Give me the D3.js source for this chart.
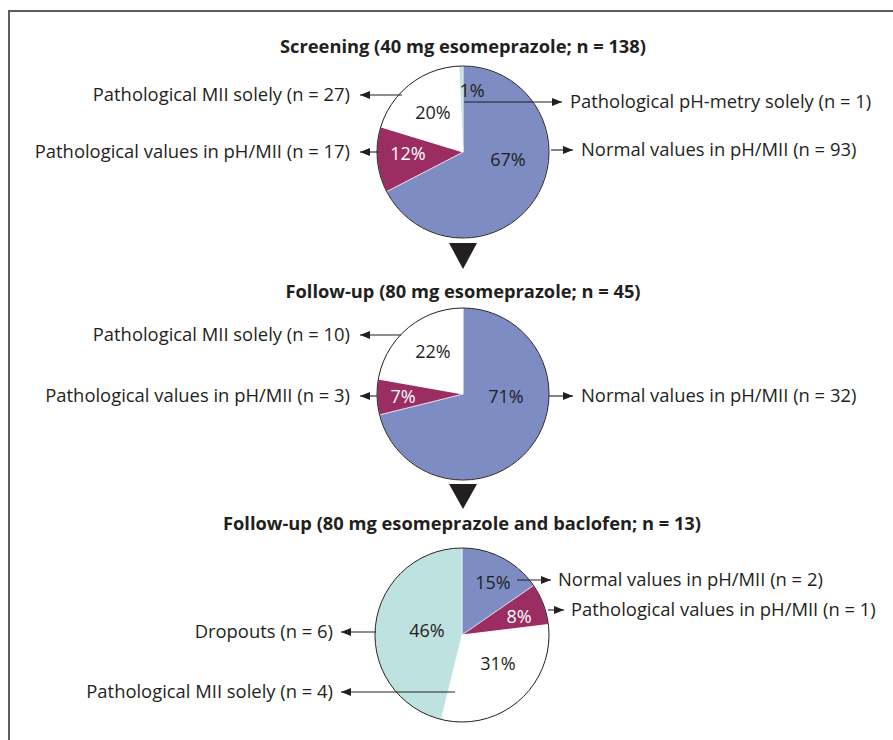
<!DOCTYPE html>
<html>
<head>
<meta charset="utf-8">
<script src="https://cdn.jsdelivr.net/npm/d3@7"></script>
<style>
  html, body { margin: 0; padding: 0; background: #fff; }
  svg { display: block; }
  text { font-family: "Open Sans", "Noto Sans", sans-serif; fill: #231f20; }
</style>
</head>
<body>
<svg id="chart" width="893" height="740"></svg>
<script>
// Patient flow through three measurement stages (counts per category)
const titles = [
  "Screening (40 mg esomeprazole; n = 138)",
  "Follow-up (80 mg esomeprazole; n = 45)",
  "Follow-up (80 mg esomeprazole and baclofen; n = 13)"
];

// Stage 1: screening
const screeningCategories = ["Normal values in pH/MII", "Pathological values in pH/MII", "Pathological MII solely", "Pathological pH-metry solely"];
const screeningCounts = [93, 17, 27, 1];

// Stage 2: follow-up, 80 mg
const followUpCategories = ["Normal values in pH/MII", "Pathological values in pH/MII", "Pathological MII solely"];
const followUpCounts = [32, 3, 10];

// Stage 3: follow-up, 80 mg + baclofen
const baclofenCategories = ["Normal values in pH/MII", "Pathological values in pH/MII", "Pathological MII solely", "Dropouts"];
const baclofenCounts = [2, 1, 4, 6];

const colorByCategory = {
  "Normal values in pH/MII": "#7d8dc3",
  "Pathological values in pH/MII": "#9b2d63",
  "Pathological MII solely": "#ffffff",
  "Pathological pH-metry solely": "#bde2df",
  "Dropouts": "#bde2df"
};
const whiteTextCategories = ["Pathological values in pH/MII"];

// Layout for each pie: centre, radius, title baseline, percent-label offsets and callouts
const layouts = [
  {
    cx: 463, cy: 152, r: 86, titleY: 53,
    pct: [[45, 8], [-55, 2], [-30, -39], [9, -61]],
    callouts: [
      { side: "right", y: 150, x1: 551, x2: 573, tx: 581 },
      { side: "left", y: 152, x1: 378, x2: 360, tx: 350 },
      { side: "left", y: 95, x1: 402, x2: 360, tx: 350 },
      { side: "right", y: 102, x1: 464, x2: 562, tx: 570 }
    ]
  },
  {
    cx: 463, cy: 394, r: 86, titleY: 298,
    pct: [[43, 3], [-60, 3], [-30, -42]],
    callouts: [
      { side: "right", y: 396, x1: 549, x2: 573, tx: 581 },
      { side: "left", y: 396, x1: 377, x2: 360, tx: 350 },
      { side: "left", y: 335, x1: 401, x2: 360, tx: 350 }
    ]
  },
  {
    cx: 462, cy: 635, r: 87, titleY: 530,
    pct: [[31, -52], [57, -18], [36, 29], [-35, -4]],
    callouts: [
      { side: "right", y: 580, x1: 517, x2: 551, tx: 558 },
      { side: "right", y: 610, x1: 548, x2: 564, tx: 571 },
      { side: "left", y: 692, x1: 455, x2: 341, tx: 333 },
      { side: "left", y: 632, x1: 376, x2: 341, tx: 333 }
    ]
  }
];

const stages = [
  { categories: screeningCategories, counts: screeningCounts },
  { categories: followUpCategories, counts: followUpCounts },
  { categories: baclofenCategories, counts: baclofenCounts }
];

const svg = d3.select("#chart");
const ink = "#231f20";

// Outer frame (runs off the right and bottom edges)
svg.append("rect")
  .attr("x", 9).attr("y", 11)
  .attr("width", 1000).attr("height", 1000)
  .attr("fill", "none").attr("stroke", "#5e5e5e").attr("stroke-width", 2);

const pie = d3.pie().sort(null).value(d => d.count);

function arrowPath(x1, x2, y) {
  const dir = x2 > x1 ? 1 : -1;
  const L = 10, H = 4;
  return `M${x2},${y} L${x2 - dir * L},${y - H} L${x2 - dir * L},${y + H} Z`;
}

stages.forEach((stage, i) => {
  const lay = layouts[i];
  const total = d3.sum(stage.counts);
  const data = stage.categories.map((c, k) => ({ category: c, count: stage.counts[k] }));
  const arcs = pie(data);
  const arc = d3.arc().innerRadius(0).outerRadius(lay.r);

  const g = svg.append("g").attr("transform", `translate(${lay.cx},${lay.cy})`);

  // Title
  svg.append("text")
    .attr("x", lay.cx).attr("y", lay.titleY)
    .attr("text-anchor", "middle")
    .attr("font-size", 18.3).attr("font-weight", 700)
    .text(titles[i]);

  // Slices
  g.selectAll("path.slice").data(arcs).join("path")
    .attr("class", "slice")
    .attr("d", arc)
    .attr("fill", d => colorByCategory[d.data.category])
    .attr("stroke", "#ffffff").attr("stroke-width", 0.6);

  // Outline
  g.append("circle").attr("r", lay.r)
    .attr("fill", "none").attr("stroke", ink).attr("stroke-width", 1);

  // Percent labels
  g.selectAll("text.pct").data(arcs).join("text")
    .attr("class", "pct")
    .attr("x", (d, k) => lay.pct[k][0])
    .attr("y", (d, k) => lay.pct[k][1])
    .attr("dy", "0.35em")
    .attr("text-anchor", "middle")
    .attr("font-size", 18)
    .style("fill", d => whiteTextCategories.includes(d.data.category) ? "#ffffff" : ink)
    .text(d => Math.round(d.data.count / total * 100) + "%");

  // Callout arrows and category labels
  arcs.forEach((d, k) => {
    const c = lay.callouts[k];
    svg.append("line")
      .attr("x1", c.x1).attr("x2", c.x2).attr("y1", c.y).attr("y2", c.y)
      .attr("stroke", ink).attr("stroke-width", 1.1);
    svg.append("path").attr("d", arrowPath(c.x1, c.x2, c.y)).attr("fill", ink);
    svg.append("text")
      .attr("x", c.tx).attr("y", c.y)
      .attr("dy", "0.35em")
      .attr("text-anchor", c.side === "left" ? "end" : "start")
      .attr("font-size", 18.4)
      .text(`${d.data.category} (n = ${d.data.count})`);
  });
});

// Flow triangles between stages
[[463, 243, 269], [463, 484, 509]].forEach(([x, y0, y1]) => {
  svg.append("path")
    .attr("d", `M${x - 14},${y0} L${x + 14},${y0} L${x},${y1} Z`)
    .attr("fill", ink);
});
</script>
</body>
</html>
